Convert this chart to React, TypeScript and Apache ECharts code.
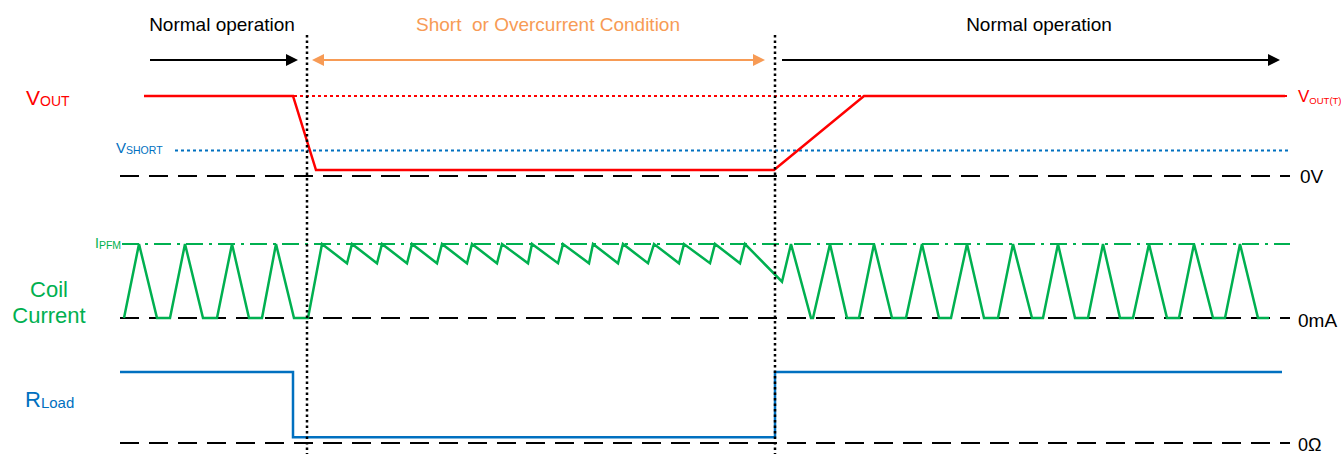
import React, { useEffect, useRef } from "react";
import * as echarts from "echarts";

const FONT = "'Liberation Sans', Arial, Helvetica, sans-serif";
const RED = "#FF0000";
const GREEN = "#00B050";
const BLUE = "#0070C0";
const ORANGE = "#F79B55";
const BLACK = "#000000";

// ---- Time axis (arbitrary time units across the diagram) ----
const T_MIN = 0;
const T_MAX = 1341;

// ---- Phases ----
const phaseBoundaries = [307, 775];
const phaseTitles = ["Normal operation", "Short  or Overcurrent Condition", "Normal operation"];
const phaseTitleColors = [BLACK, ORANGE, BLACK];
const phaseTitleCenters = [222, 548, 1039];
const phaseArrowStarts = [150, 312, 782];
const phaseArrowEnds = [298, 765, 1280];
const phaseArrowDouble = [false, true, false];
const phaseArrowColors = [BLACK, ORANGE, BLACK];

// ---- Reference levels (start / end time of the reference lines) ----
const refStart = 120;
const refEnd = 1290;
const voutRefStart = 144;
const vshortRefStart = 175;
const ipfmRefStart = 122;

// ---- VOUT (normalised, 1 = VOUT(T), 0 = 0V) ----
const voutTime = [144, 293, 316, 774, 864, 1285];
const voutLevel = [1, 1, 0.075, 0.075, 1, 1];
const vshortLevel = 0.32;

// ---- Coil current (normalised, 1 = IPFM, 0 = 0mA) ----
const coilBefore: [number, number][] = [
  [124, 0], [139, 1], [157, 0], [170, 0], [185, 1], [203, 0], [217, 0],
  [232, 1], [249, 0], [262, 0], [276, 1], [294, 0], [308, 0], [322, 1],
];
const coilShort: [number, number][] = [
  [347, 0.74], [352, 1], [377, 0.74], [382, 1], [407, 0.74], [412, 1],
  [437, 0.74], [442, 1], [467, 0.74], [472, 1], [497, 0.74], [502, 1],
  [528, 0.74], [532, 1], [558, 0.74], [563, 1], [589, 0.74], [593, 1],
  [618, 0.74], [623, 1], [648, 0.74], [654, 1], [679, 0.74], [684, 1],
  [710, 0.74], [715, 1], [740, 0.74], [745, 1], [782, 0.49], [791, 1],
];
const coilAfter: [number, number][] = [
  [811, 0], [813, 0], [830, 1], [847, 0], [859, 0], [874, 1],
  [892, 0], [906, 0], [922, 1], [939, 0], [951, 0], [967, 1],
  [984, 0], [998, 0], [1013, 1], [1032, 0], [1043, 0], [1058, 1],
  [1075, 0], [1088, 0], [1103, 1], [1120, 0], [1133, 0], [1149, 1],
  [1167, 0], [1179, 0], [1194, 1], [1213, 0], [1225, 0], [1240, 1],
  [1258, 0], [1269, 0],
];

// ---- RLoad (normalised, 1 = load, 0 = 0 ohm) ----
const rloadTime = [120, 293, 293, 775, 775, 1282];
const rloadLevel = [1, 1, 0.08, 0.08, 1, 1];

const zip = (t: number[], v: number[]) => t.map((x, i) => [x, v[i]]);

function lineSeries(gi: number, data: any[], color: string, width: number, dash: any, z = 2) {
  return {
    type: "line",
    xAxisIndex: gi,
    yAxisIndex: gi,
    data,
    symbol: "none",
    showSymbol: false,
    clip: false,
    silent: true,
    z,
    lineStyle: { color, width, type: dash, join: "miter", cap: "butt" },
  };
}

function subLabel(x: number, y: number, main: string, sub: string, color: string,
  mainSize: number, subSize: number, subLH: number, z = 10) {
  return {
    type: "text",
    x,
    y,
    z,
    silent: true,
    style: {
      text: `{m|${main}}{s|${sub}}`,
      verticalAlign: "middle",
      align: "left",
      rich: {
        m: { fontSize: mainSize, lineHeight: mainSize, fontFamily: FONT, fill: color, verticalAlign: "middle" },
        s: { fontSize: subSize, lineHeight: subLH, fontFamily: FONT, fill: color, verticalAlign: "bottom" },
      },
    },
  };
}

function plainText(x: number, y: number, text: string, color: string, size: number, align = "left", lineHeight?: number) {
  return {
    type: "text",
    x,
    y,
    z: 10,
    silent: true,
    style: {
      text,
      fill: color,
      fontSize: size,
      fontFamily: FONT,
      align,
      verticalAlign: "middle",
      lineHeight: lineHeight ?? size,
    },
  };
}

function buildOption() {
  const grids = [
    { left: 0, right: 0, top: 96, height: 80 },
    { left: 0, right: 0, top: 244, height: 74 },
    { left: 0, right: 0, top: 372, height: 71 },
    { left: 0, right: 0, top: 0, height: 454 },
  ];
  const xAxis = grids.map((_, i) => ({ type: "value", gridIndex: i, min: T_MIN, max: T_MAX, show: false }));
  const yAxis = [
    { type: "value", gridIndex: 0, min: 0, max: 1, show: false },
    { type: "value", gridIndex: 1, min: 0, max: 1, show: false },
    { type: "value", gridIndex: 2, min: 0, max: 1, show: false },
    { type: "value", gridIndex: 3, min: 0, max: 454, inverse: true, show: false },
  ];

  const dashed = [19, 10];
  const dotted = [3, 3];

  const series: any[] = [
    // VOUT panel
    lineSeries(0, [[voutRefStart, 1], [refEnd, 1]], RED, 2, dotted, 1),
    lineSeries(0, [[vshortRefStart, vshortLevel], [refEnd, vshortLevel]], BLUE, 2, dotted, 1),
    lineSeries(0, [[refStart, 0], [refEnd, 0]], BLACK, 2, dashed, 1),
    lineSeries(0, zip(voutTime, voutLevel), RED, 2.5, "solid", 3),
    // Coil current panel
    lineSeries(1, [[ipfmRefStart, 1], [refEnd, 1]], GREEN, 2, [17, 6, 3, 6], 1),
    lineSeries(1, [[refStart, 0], [refEnd, 0]], BLACK, 2, dashed, 1),
    lineSeries(1, [...coilBefore, ...coilShort, ...coilAfter], GREEN, 2.5, "solid", 3),
    // RLoad panel
    lineSeries(2, [[refStart, 0], [refEnd, 0]], BLACK, 2, dashed, 1),
    lineSeries(2, zip(rloadTime, rloadLevel), BLUE, 2.5, "solid", 3),
  ];

  // Phase boundaries
  phaseBoundaries.forEach((b) => {
    series.push(lineSeries(3, [[b, 35], [b, 454]], BLACK, 2.5, [2.5, 3], 5));
  });

  // Phase arrows
  const arrowRow = 60;
  const head = 12;
  phaseArrowStarts.forEach((s, i) => {
    const e = phaseArrowEnds[i];
    const dbl = phaseArrowDouble[i];
    series.push({
      type: "line",
      xAxisIndex: 3,
      yAxisIndex: 3,
      data: [],
      symbol: "none",
      silent: true,
      markLine: {
        silent: true,
        animation: false,
        symbol: [dbl ? "triangle" : "none", "triangle"],
        symbolSize: [head, head],
        label: { show: false },
        emphasis: { disabled: true },
        lineStyle: { color: phaseArrowColors[i], width: 2, type: "solid" },
        data: [[
          { coord: [dbl ? s + head / 2 : s, arrowRow] },
          { coord: [e - head / 2, arrowRow] },
        ]],
      },
    });
  });

  const graphic: any[] = [
    ...phaseTitles.map((t, i) => plainText(phaseTitleCenters[i], 24.5, t, phaseTitleColors[i], 19, "center")),
    subLabel(26, 97.5, "V", "OUT", RED, 21, 14, 7),
    subLabel(116, 147.5, "V", "SHORT", BLUE, 15, 10.5, 4),
    subLabel(1298, 96.5, "V", "OUT(T)", RED, 17, 9.5, 7),
    subLabel(95, 243, "I", "PFM", GREEN, 14, 10.5, 9),
    subLabel(25, 399, "R", "Load", BLUE, 22, 15, 11),
    plainText(49, 302.5, "Coil\nCurrent", GREEN, 22, "center", 26),
    plainText(1300, 176, "0V", BLACK, 19),
    plainText(1298, 320.5, "0mA", BLACK, 19),
    plainText(1298, 445, "0Ω", BLACK, 18),
  ];

  return {
    animation: false,
    backgroundColor: "#FFFFFF",
    grid: grids,
    xAxis,
    yAxis,
    series,
    graphic,
  };
}

export default function App() {
  const ref = useRef<HTMLDivElement>(null);
  useEffect(() => {
    if (!ref.current) return;
    const chart = echarts.init(ref.current, null, { renderer: "svg" });
    chart.setOption(buildOption() as any);
    return () => chart.dispose();
  }, []);
  return (
    <div
      ref={ref}
      style={{ position: "absolute", left: 0, top: 0, width: 1341, height: 454, background: "#fff" }}
    />
  );
}
